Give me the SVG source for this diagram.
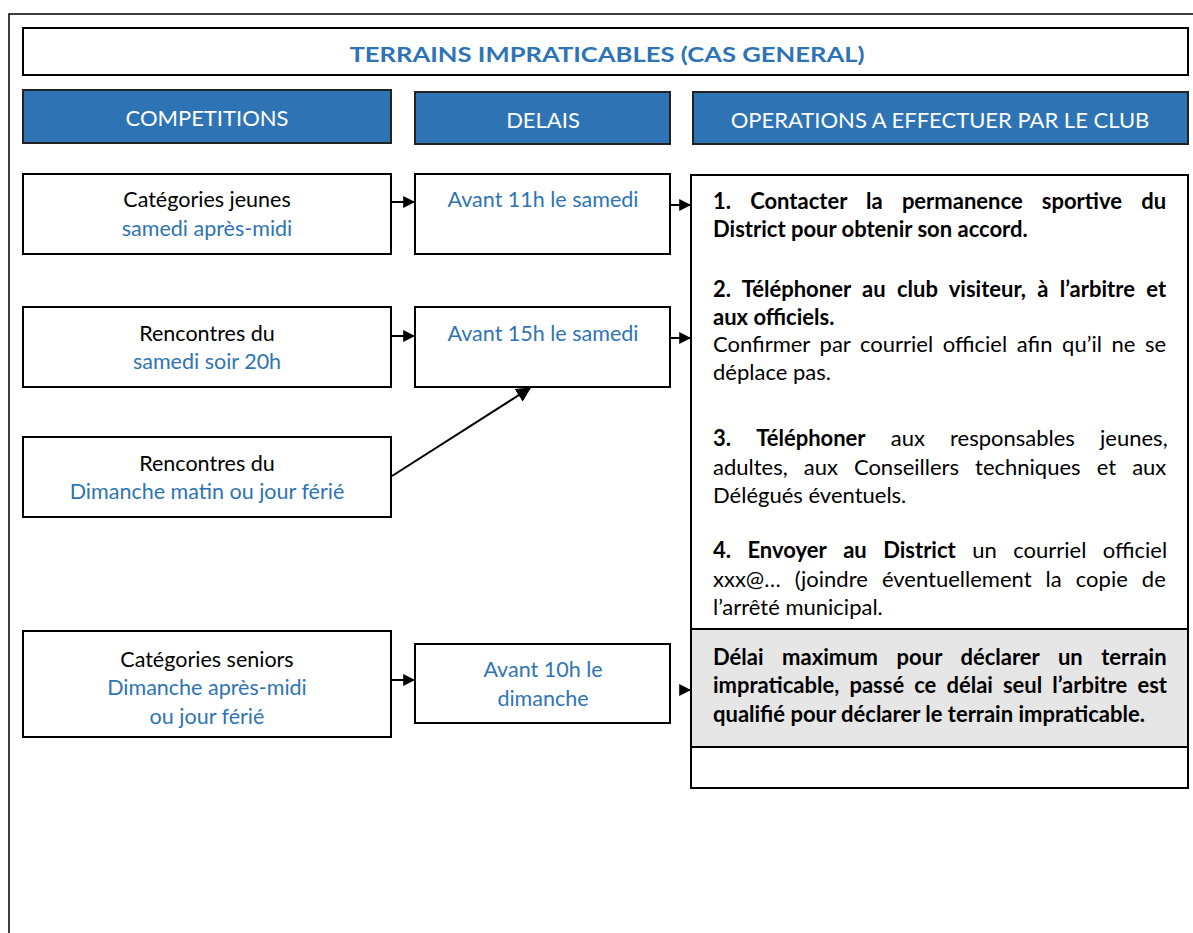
<svg xmlns="http://www.w3.org/2000/svg" width="1193" height="933" viewBox="0 0 1193 933">
<defs>
<marker id="ah" viewBox="0 0 10 10" refX="9" refY="5" markerWidth="12" markerHeight="12" markerUnits="userSpaceOnUse" orient="auto">
<path d="M0,0 L10,5 L0,10 z" fill="#000"/>
</marker>
<marker id="ahb" viewBox="0 0 10 10" refX="9" refY="5" markerWidth="15" markerHeight="15" markerUnits="userSpaceOnUse" orient="auto">
<path d="M0,0 L10,5 L0,10 z" fill="#000"/>
</marker>
</defs>
<style>
.box{fill:#fff;stroke:#000;stroke-width:2}
.hdr{fill:#2E74B5;stroke:#222;stroke-width:2}
.gray{fill:#E7E6E6;stroke:#000;stroke-width:2}
.t{font-family:Lato,"Liberation Sans",sans-serif;font-size:21.5px;fill:#000}
.b{fill:#2E74B5}
.w{fill:#fff;font-size:22px}
.c{text-anchor:middle}
.bold{font-weight:bold}
.op{font-family:Lato,"Liberation Sans",sans-serif;font-size:22px;fill:#000}
.conn{stroke:#000;stroke-width:2;fill:none}
</style>
<rect x="9" y="14" width="1200" height="1000" fill="#fff" stroke="#000" stroke-width="1.5"/>

<g id="title">
<rect class="box" x="23" y="28" width="1165" height="47"/>
<text class="t c bold b" x="607" y="62" font-size="26" textLength="515" lengthAdjust="spacingAndGlyphs">TERRAINS IMPRATICABLES (CAS GENERAL)</text>
</g>

<g id="h-competitions">
<rect class="hdr" x="23" y="90" width="368" height="53"/>
<text class="t c w" x="207" y="126">COMPETITIONS</text>
</g>
<g id="h-delais">
<rect class="hdr" x="415" y="92" width="255" height="52"/>
<text class="t c w" x="543" y="128">DELAIS</text>
</g>
<g id="h-operations">
<rect class="hdr" x="693" y="92" width="495" height="52"/>
<text class="t c w" x="940" y="128">OPERATIONS A EFFECTUER PAR LE CLUB</text>
</g>

<g id="c-jeunes">
<rect class="box" x="23" y="174" width="368" height="80"/>
<text class="t c" x="207" y="207">Catégories jeunes</text>
<text class="t c b" x="207" y="236">samedi après-midi</text>
</g>
<g id="c-samedi-soir">
<rect class="box" x="23" y="307" width="368" height="80"/>
<text class="t c" x="207" y="341">Rencontres du</text>
<text class="t c b" x="207" y="369">samedi soir 20h</text>
</g>
<g id="c-dimanche-matin">
<rect class="box" x="23" y="437" width="368" height="80"/>
<text class="t c" x="207" y="471">Rencontres du</text>
<text class="t c b" x="207" y="499">Dimanche matin ou jour férié</text>
</g>
<g id="c-seniors">
<rect class="box" x="23" y="631" width="368" height="106"/>
<text class="t c" x="207" y="667">Catégories seniors</text>
<text class="t c b" x="207" y="695">Dimanche après-midi</text>
<text class="t c b" x="207" y="724">ou jour férié</text>
</g>

<g id="d-11h">
<rect class="box" x="415" y="174" width="255" height="80"/>
<text class="t c b" x="543" y="207">Avant 11h le samedi</text>
</g>
<g id="d-15h">
<rect class="box" x="415" y="307" width="255" height="80"/>
<text class="t c b" x="543" y="341">Avant 15h le samedi</text>
</g>
<g id="d-10h">
<rect class="box" x="415" y="644" width="255" height="79"/>
<text class="t c b" x="543" y="677">Avant 10h le</text>
<text class="t c b" x="543" y="706">dimanche</text>
</g>

<g id="operations">
<rect class="box" x="691" y="175" width="497" height="613"/>
<text class="op bold" x="713" y="209"><tspan>1.</tspan> <tspan dx="13.8">Contacter</tspan> <tspan dx="13.8">la</tspan> <tspan dx="13.8">permanence</tspan> <tspan dx="13.8">sportive</tspan> <tspan dx="13.8">du</tspan></text>
<text class="op bold" x="713" y="237">District pour obtenir son accord.</text>
<text class="op bold" x="713" y="297"><tspan>2.</tspan> <tspan dx="6">Téléphoner</tspan> <tspan dx="6">au</tspan> <tspan dx="6">club</tspan> <tspan dx="6">visiteur,</tspan> <tspan dx="6">à</tspan> <tspan dx="6">l’arbitre</tspan> <tspan dx="6">et</tspan></text>
<text class="op bold" x="713" y="325">aux officiels.</text>
<text class="op" x="713" y="352"><tspan>Confirmer</tspan> <tspan dx="4">par</tspan> <tspan dx="4">courriel</tspan> <tspan dx="4">officiel</tspan> <tspan dx="4">afin</tspan> <tspan dx="4">qu’il</tspan> <tspan dx="4">ne</tspan> <tspan dx="4">se</tspan></text>
<text class="op" x="713" y="380">déplace pas.</text>
<text class="op" x="713" y="446"><tspan font-weight="bold">3.</tspan> <tspan dx="19.5" font-weight="bold">Téléphoner</tspan> <tspan dx="19.5">aux</tspan> <tspan dx="19.5">responsables</tspan> <tspan dx="19.5">jeunes,</tspan></text>
<text class="op" x="713" y="475"><tspan>adultes,</tspan> <tspan dx="10.4">aux</tspan> <tspan dx="10.4">Conseillers</tspan> <tspan dx="10.4">techniques</tspan> <tspan dx="10.4">et</tspan> <tspan dx="10.4">aux</tspan></text>
<text class="op" x="713" y="503">Délégués éventuels.</text>
<text class="op" x="713" y="558"><tspan font-weight="bold">4.</tspan> <tspan dx="10.8" font-weight="bold">Envoyer</tspan> <tspan dx="10.8" font-weight="bold">au</tspan> <tspan dx="10.8" font-weight="bold">District</tspan> <tspan dx="10.8">un</tspan> <tspan dx="10.8">courriel</tspan> <tspan dx="10.8">officiel</tspan></text>
<text class="op" x="713" y="587"><tspan>xxx@…</tspan> <tspan dx="8.4">(joindre</tspan> <tspan dx="8.4">éventuellement</tspan> <tspan dx="8.4">la</tspan> <tspan dx="8.4">copie</tspan> <tspan dx="8.4">de</tspan></text>
<text class="op" x="713" y="615">l’arrêté municipal.</text>
</g>

<g id="delai-max">
<rect class="gray" x="691" y="629" width="497" height="118"/>
<text class="op bold b" x="713" y="665"><tspan>Délai</tspan> <tspan dx="13.2">maximum</tspan> <tspan dx="13.2">pour</tspan> <tspan dx="13.2">déclarer</tspan> <tspan dx="13.2">un</tspan> <tspan dx="13.2">terrain</tspan></text>
<text class="op bold b" x="713" y="693"><tspan>impraticable,</tspan> <tspan dx="4.7">passé</tspan> <tspan dx="4.7">ce</tspan> <tspan dx="4.7">délai</tspan> <tspan dx="4.7">seul</tspan> <tspan dx="4.7">l’arbitre</tspan> <tspan dx="4.7">est</tspan></text>
<text class="op bold b" x="713" y="722">qualifié pour déclarer le terrain impraticable.</text>
</g>

<g id="connectors">
<line class="conn" x1="391" y1="202" x2="414" y2="202" marker-end="url(#ah)"/>
<line class="conn" x1="391" y1="336" x2="414" y2="336" marker-end="url(#ah)"/>
<line class="conn" x1="391" y1="680" x2="414" y2="680" marker-end="url(#ah)"/>
<line class="conn" x1="670" y1="205" x2="690" y2="205" marker-end="url(#ah)"/>
<line class="conn" x1="670" y1="338" x2="690" y2="338" marker-end="url(#ah)"/>
<line class="conn" x1="683" y1="690" x2="690" y2="690" marker-end="url(#ah)"/>
<line class="conn" x1="392" y1="476" x2="530" y2="388" marker-end="url(#ahb)"/>
</g>
</svg>
